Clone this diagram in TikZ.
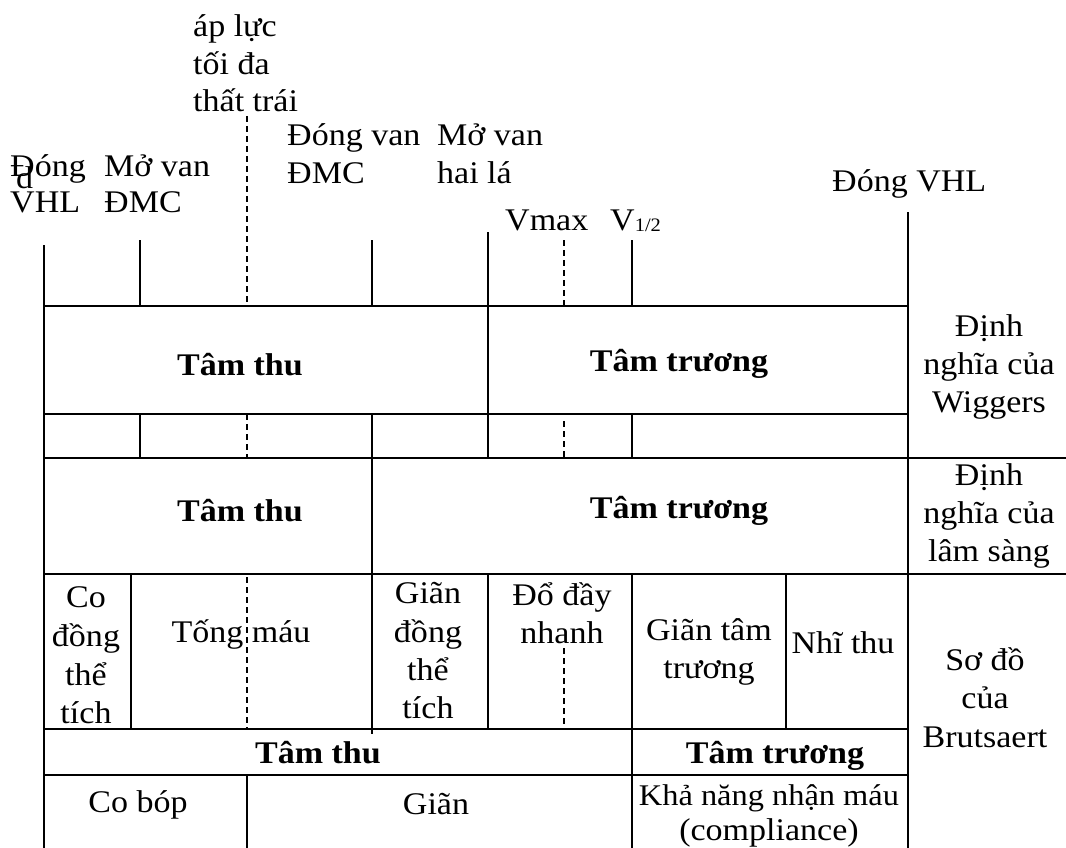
\documentclass[tikz,border=0pt]{standalone}
\usepackage{fontspec}
\setmainfont{Liberation Serif}
\newfontfamily\tnr[FakeStretch=1.08]{Liberation Serif}
\begin{document}
\begin{tikzpicture}[x=1pt,y=-1pt,
  rule/.style={line width=1.5pt},
  dashrule/.style={line width=1.3pt, dash pattern=on 6pt off 4pt},
  lbl/.style={inner sep=0pt, anchor=base, font=\tnr\fontsize{31.5}{38}\selectfont},
  lbll/.style={lbl, anchor=base west},
  head/.style={lbl, font=\tnr\fontsize{31.5}{38}\selectfont\bfseries}]
\useasboundingbox (0,0) rectangle (1066,848);

% ---- horizontal rules of the table
\draw[rule] (44,306) -- (908,306);
\draw[rule] (44,414) -- (908,414);
\draw[rule] (44,458) -- (1066,458);
\draw[rule] (44,574) -- (1066,574);
\draw[rule] (44,729) -- (908,729);
\draw[rule] (44,775) -- (908,775);

% ---- vertical rules and event ticks
\draw[rule] (44,245) -- (44,848);
\draw[rule] (140,240) -- (140,306);
\draw[rule] (140,414) -- (140,458);
\draw[dashrule] (247,116) -- (247,306);
\draw[dashrule] (247,414) -- (247,458);
\draw[dashrule] (247,577) -- (247,729);
\draw[rule] (247,775) -- (247,848);
\draw[rule] (372,240) -- (372,306);
\draw[rule] (372,414) -- (372,734);
\draw[rule] (488,232) -- (488,458);
\draw[rule] (488,574) -- (488,729);
\draw[dashrule] (564,240) -- (564,306);
\draw[dashrule] (564,421) -- (564,458);
\draw[dashrule] (564,648) -- (564,729);
\draw[rule] (632,240) -- (632,306);
\draw[rule] (632,414) -- (632,458);
\draw[rule] (632,574) -- (632,848);
\draw[rule] (131,574) -- (131,729);
\draw[rule] (786,574) -- (786,729);
\draw[rule] (908,212) -- (908,848);

% ---- event labels above the table
\node[lbll] (ap1) at (193,37) {áp lực};
\node[lbll] (ap2) at (193,74.5) {tối đa};
\node[lbll] (ap3) at (193,112) {thất trái};
\node[lbll] (dmc1) at (287,146) {Đóng van};
\node[lbll] (dmc2) at (287,183) {ĐMC};
\node[lbll] (mhl1) at (437,146) {Mở van};
\node[lbll] (mhl2) at (437,183) {hai lá};
\node[lbll] (dv0) at (16,189) {d};
\node[lbll] (dv1) at (10,177) {Đóng};
\node[lbll] (dv2) at (10,212) {VHL};
\node[lbll] (mo1) at (104,177) {Mở van};
\node[lbll] (mo2) at (104,212) {ĐMC};
\node[lbll] (dvr) at (832,192) {Đóng VHL};
\node[lbll] (vmax) at (505,230) {Vmax};
\node[lbll] (vhalf) at (610,230) {V\raisebox{-1pt}{\fontsize{19}{19}\selectfont 1/2}};

% ---- Wiggers rows
\node[head] (w1) at (240,375) {Tâm thu};
\node[head] (w2) at (679,371) {Tâm trương};
\node[lbl] (wl1) at (989,336) {Định};
\node[lbl] (wl2) at (989,374) {nghĩa của};
\node[lbl] (wl3) at (989,412) {Wiggers};

% ---- clinical row
\node[head] (c1) at (240,521) {Tâm thu};
\node[head] (c2) at (679,518) {Tâm trương};
\node[lbl] (cl1) at (989,485) {Định};
\node[lbl] (cl2) at (989,523) {nghĩa của};
\node[lbl] (cl3) at (989,561) {lâm sàng};

% ---- Brutsaert rows
\node[lbl] (b11) at (86,607) {Co};
\node[lbl] (b12) at (86,646) {đồng};
\node[lbl] (b13) at (86,685) {thể};
\node[lbl] (b14) at (86,723) {tích};
\node[lbl] (b2) at (241,642) {Tống máu};
\node[lbl] (b31) at (428,603) {Giãn};
\node[lbl] (b32) at (428,642) {đồng};
\node[lbl] (b33) at (428,680) {thể};
\node[lbl] (b34) at (428,718) {tích};
\node[lbl] (b41) at (562,605) {Đổ đầy};
\node[lbl] (b42) at (562,643) {nhanh};
\node[lbl] (b51) at (709,640) {Giãn tâm};
\node[lbl] (b52) at (709,678) {trương};
\node[lbl] (b6) at (843,653) {Nhĩ thu};
\node[lbl] (bl1) at (985,670) {Sơ đồ};
\node[lbl] (bl2) at (985,708) {của};
\node[lbl] (bl3) at (985,747) {Brutsaert};
\node[head] (bt1) at (318,763) {Tâm thu};
\node[head] (bt2) at (775,763) {Tâm trương};
\node[lbl] (bb1) at (138,812) {Co bóp};
\node[lbl] (bb2) at (436,814) {Giãn};
\node[lbl, font=\tnr\fontsize{30}{38}\selectfont] (bb31) at (769,805) {Khả năng nhận máu};
\node[lbl] (bb32) at (769,840) {(compliance)};
\end{tikzpicture}
\end{document}
